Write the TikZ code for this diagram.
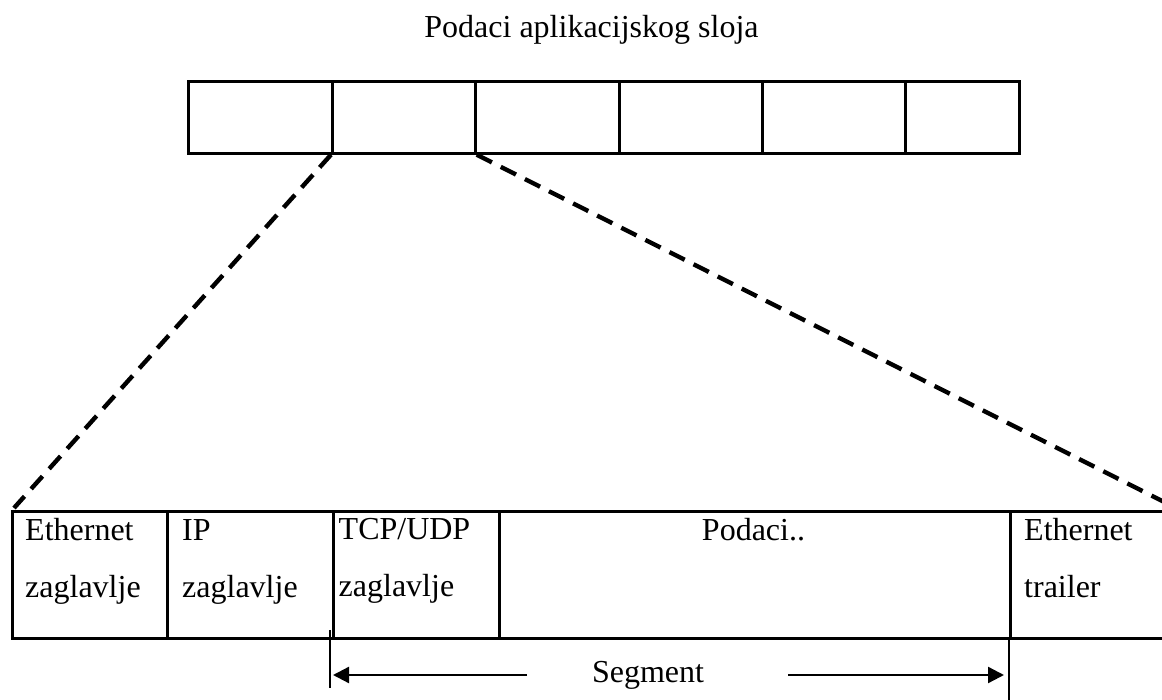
\documentclass[tikz,border=0pt]{standalone}
\usepackage{fontspec}
\setmainfont{Liberation Serif}
\usetikzlibrary{arrows.meta}
\begin{document}
\begin{tikzpicture}[x=1pt,y=-1pt,
  box/.style={draw, line width=2.7pt, inner sep=0pt, minimum height=72pt, anchor=north west},
  cell/.style={draw, line width=2.8pt, inner sep=0pt, minimum height=127pt, anchor=north west},
  txt/.style={font=\fontsize{32}{57}\selectfont, inner sep=0pt, align=left},
  zoomline/.style={line width=4.4pt, dash pattern=on 17pt off 10pt},
  arr/.style={-{Triangle[length=16pt,width=16pt]}, line width=2.3pt},
  tickline/.style={line width=2.3pt}]
\useasboundingbox (0,0) rectangle (1162,700);

% title
\node[txt, anchor=base] (title) at (591.5,38) {Podaci aplikacijskog sloja};

% application data blocks
\node[box, minimum width=144pt] (t1) at (187,80) {};
\node[box, minimum width=143pt] (t2) at (331,80) {};
\node[box, minimum width=144pt] (t3) at (474,80) {};
\node[box, minimum width=143pt] (t4) at (618,80) {};
\node[box, minimum width=143pt] (t5) at (761,80) {};
\node[box, minimum width=114pt] (t6) at (904,80) {};

% frame cells
\node[cell, minimum width=155pt] (b1) at (11,510) {};
\node[cell, minimum width=166pt] (b2) at (166,510) {};
\node[cell, minimum width=166pt] (b3) at (332,510) {};
\node[cell, minimum width=511pt] (b4) at (498,510) {};
\node[cell, minimum width=175pt] (b5) at (1009,510) {};

% cell labels
\node[txt, anchor=north west] (l1) at (25,518) {Ethernet\\zaglavlje};
\node[txt, anchor=north west] (l2) at (182,519) {IP\\zaglavlje};
\node[txt, anchor=north west] (l3) at (338.5,518) {TCP/UDP\\zaglavlje};
\node[txt, anchor=base] (l4) at (753.5,540) {Podaci..};
\node[txt, anchor=north west] (l5) at (1024,518) {Ethernet\\trailer};

% zoom lines from the second block to the frame
\coordinate (zl) at (14,508);
\coordinate (zr) at (1180,510);
\draw[zoomline] (t2.south west) -- (zl);
\draw[zoomline] (t2.south east) -- (zr);

% segment extent
\node[txt, anchor=base] (seg) at (648,682) {Segment};
\coordinate (tkA) at (330,630);
\coordinate (tkB) at (330,688);
\coordinate (tkC) at (1009,700);
\draw[tickline] (tkA) -- (tkB);
\draw[tickline] (b5.south west) -- (tkC);
\coordinate (a1) at (527,675);
\coordinate (al) at (333,675);
\coordinate (a2) at (788,675);
\coordinate (ar) at (1004,675);
\draw[arr] (a1) -- (al);
\draw[arr] (a2) -- (ar);
\end{tikzpicture}
\end{document}
